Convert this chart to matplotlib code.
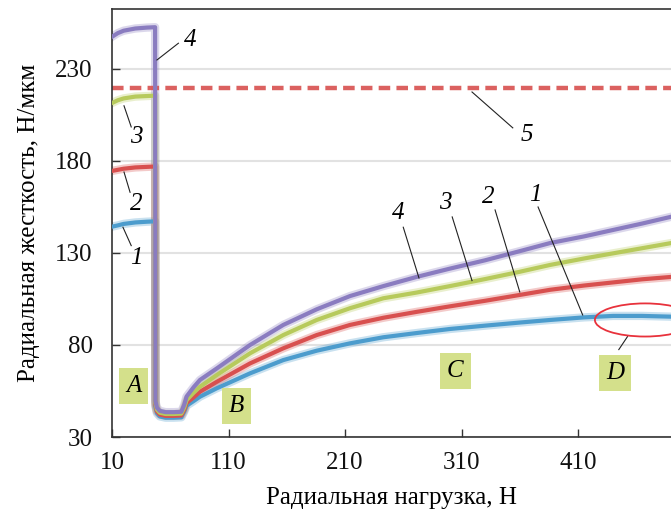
import matplotlib
matplotlib.use("Agg")
import matplotlib.pyplot as plt
from matplotlib.patches import Ellipse

plt.rcParams['font.family'] = ['Liberation Serif', 'DejaVu Serif']

# ---- data ----
x_vals = [10, 15, 20, 30, 40, 47, 47.3, 48.5, 51, 56, 63, 69.5, 72, 74, 80, 85.5, 100, 128.5, 157,
          185.7, 214.3, 242.9, 271.5, 300, 330, 360, 386, 415, 440, 465, 490]
curve4 = [247.5, 249.5, 250.8, 252.0, 252.5, 252.7, 49.5, 46.0, 44.2, 43.5, 43.5, 43.7, 47.5, 52.0, 57.0, 61.0,
          67.3, 80.0, 90.9, 99.4, 106.6, 112.0, 117.0, 121.5, 126.0, 131.0, 135.4, 139.0, 142.5, 146.0, 149.7]
curve3 = [211.5, 213.0, 214.0, 215.0, 215.3, 215.5, 48.5, 45.0, 43.2, 42.5, 42.5, 42.7, 46.0, 50.0, 54.0, 57.3,
          63.7, 75.5, 85.4, 93.6, 100.0, 105.4, 108.5, 112.0, 115.8, 119.8, 123.5, 127.0, 129.8, 132.6, 135.4]
curve2 = [174.6, 175.2, 175.8, 176.5, 176.8, 177.0, 47.5, 44.0, 42.2, 41.5, 41.5, 41.7, 44.8, 48.5, 51.5, 54.6,
          60.0, 70.0, 78.2, 85.4, 90.9, 94.8, 98.0, 101.0, 104.0, 107.2, 110.0, 112.3, 114.0, 115.7, 117.0]
curve1 = [144.3, 145.0, 145.8, 146.6, 147.0, 147.2, 46.5, 43.0, 41.2, 40.5, 40.5, 40.7, 43.8, 47.0, 49.5, 51.9,
          56.5, 64.6, 71.8, 76.9, 80.9, 84.2, 86.5, 88.7, 90.5, 92.2, 93.6, 95.0, 95.8, 95.8, 95.4]
line5_y = 219.7

x_ticks = [10, 110, 210, 310, 410]
y_ticks = [30, 80, 130, 180, 230]

colors = {'4': '#8a7cc0', '3': '#b7ca5c', '2': '#d8504f', '1': '#4c9ccd'}

fig = plt.figure(figsize=(6.71, 5.09), dpi=100)
ax = fig.add_axes([112/671, 1 - 437/509, (671 - 112)/671, (437 - 9)/509])
ax.set_xlim(10, 489.8)
ax.set_ylim(30, 262.6)

for yv in y_ticks:
    ax.axhline(yv, color='#e2e2e2', lw=1.5, zorder=0)

for key, ys in [('1', curve1), ('2', curve2), ('3', curve3), ('4', curve4)]:
    ax.plot(x_vals, ys, color=colors[key], lw=6, alpha=0.3, solid_joinstyle='round', zorder=2)
    ax.plot(x_vals, ys, color=colors[key], lw=3, solid_joinstyle='round', zorder=3)

ax.axhline(line5_y, color='#d8504f', lw=3.2, dashes=(2.6, 1.4), alpha=0.9, zorder=2)

# leader lines and numeric labels
num_labels = [
    ('4', (48.6, 234.9), (67.0, 244.0), (77.5, 246.0)),
    ('3', (20.3, 210.0), (26.5, 198.5), (31.0, 193.0)),
    ('2', (20.3, 174.0), (25.5, 163.0), (31.0, 156.5)),
    ('1', (19.4, 144.0), (26.5, 134.0), (31.0, 127.5)),
    ('4', (273.5, 116.4), (260.0, 144.0), (255.5, 151.7)),
    ('3', (319.0, 115.0), (302.0, 149.6), (296.0, 157.0)),
    ('2', (360.0, 108.8), (338.8, 153.4), (332.7, 160.4)),
    ('1', (414.0, 96.3), (375.7, 155.0), (373.0, 161.5)),
    ('5', (319.0, 217.5), (354.0, 198.0), (366.0, 194.0)),
]
for txt, p0, p1, pt in num_labels:
    ax.plot([p0[0], p1[0]], [p0[1], p1[1]], color='#222222', lw=0.8, zorder=4)
    ax.text(pt[0], pt[1], txt, fontsize=18, style='italic', ha='center', va='center', zorder=5)

# region boxes
box_kw = dict(boxstyle='square,pad=0.28', facecolor='#d4e08b', edgecolor='none')
for letter, bx, by in [('A', 28.5, 57.7), ('B', 116.9, 46.6), ('C', 304.7, 65.6), ('D', 441.6, 65.0)]:
    ax.text(bx, by, letter, fontsize=18, style='italic', ha='center', va='center', bbox=box_kw, zorder=5)

# ellipse and D leader
ax.add_patch(Ellipse((467.5, 93.6), width=86, height=18, fill=False, edgecolor='#e8323c', lw=1.3, zorder=5))
ax.plot([445.0, 452.5], [77.5, 84.6], color='#222222', lw=0.8, zorder=4)

ax.set_xticks(x_ticks)
ax.set_yticks(y_ticks)
ax.tick_params(direction='in', length=6, width=1, colors='#333333', labelsize=18, labelcolor='#111111', pad=11)
ax.tick_params(axis='y', pad=14)
for s in ['left', 'bottom', 'top']:
    ax.spines[s].set_color('#333333')
    ax.spines[s].set_linewidth(1.2)
ax.spines['right'].set_visible(False)

ax.set_xlabel('Радиальная нагрузка, Н', fontsize=18, labelpad=9)
ax.set_ylabel('Радиальная жесткость, Н/мкм', fontsize=18, labelpad=11)

fig.savefig('out.png', dpi=100)
